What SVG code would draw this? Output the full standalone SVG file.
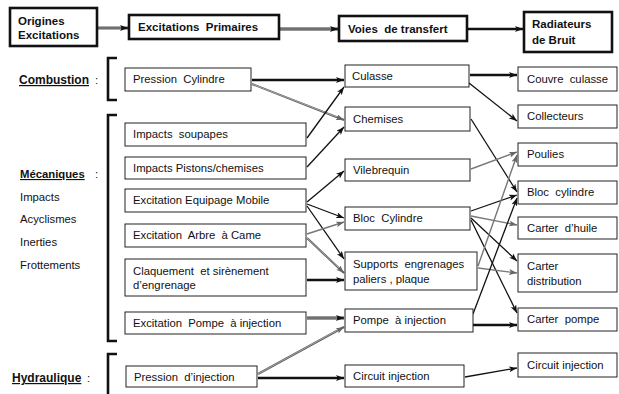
<svg xmlns="http://www.w3.org/2000/svg" width="619" height="394" viewBox="0 0 619 394" xml:space="preserve">
<defs>
<marker id="ab" markerWidth="9" markerHeight="7" refX="8" refY="3" orient="auto" markerUnits="userSpaceOnUse"><path d="M0,0 L8,3 L0,6 L2,3 z" fill="#111"/></marker>
<marker id="ag" markerWidth="9" markerHeight="7" refX="8" refY="3" orient="auto" markerUnits="userSpaceOnUse"><path d="M0,0 L8,3 L0,6 L2,3 z" fill="#666"/></marker>
</defs>
<style>
text{font-family:"Liberation Sans",Arial,sans-serif;font-size:11.3px;fill:#111;white-space:pre}
.hd{font-weight:bold;font-size:11.5px}
.lb{font-weight:bold;text-decoration:underline;font-size:12px}
.lm{font-weight:bold;text-decoration:underline;font-size:11.3px}
.hbox{fill:#fff;stroke:#111;stroke-width:2.6}
.box{fill:#fff;stroke:#222;stroke-width:1}
.br{fill:none;stroke:#111;stroke-width:2.6}
.k{stroke:#111;stroke-width:1.3;fill:none;marker-end:url(#ab)}
.kt{stroke:#111;stroke-width:2.4;fill:none;marker-end:url(#ab)}
.g{stroke:#777;stroke-width:1.4;fill:none;marker-end:url(#ag)}
.dO{stroke:#333;stroke-width:2.8;fill:none;marker-end:url(#ab)}
.dI{stroke:#bbb;stroke-width:0.9;fill:none}
.gO{stroke:#555;stroke-width:2;fill:none;marker-end:url(#ag)}
.gI{stroke:#ccc;stroke-width:0.7;fill:none}
</style>
<rect width="619" height="394" fill="#fff"/>

<g id="connectors">
<line class="dO" x1="98" y1="28" x2="128" y2="28"/><line class="dI" x1="98" y1="28" x2="121" y2="28"/>
<line class="dO" x1="280" y1="29" x2="338" y2="29"/><line class="dI" x1="280" y1="29" x2="331" y2="29"/>
<line class="kt" x1="468" y1="29" x2="523" y2="29"/>

<line class="kt" x1="252" y1="80" x2="344" y2="80"/>
<line class="gO" x1="252" y1="84" x2="344" y2="120"/><line class="gI" x1="252" y1="84" x2="337" y2="117"/>
<line class="k" x1="307" y1="138" x2="344" y2="87"/>
<line class="k" x1="307" y1="167" x2="344" y2="127"/>
<line class="k" x1="307" y1="202" x2="344" y2="171"/>
<line class="k" x1="307" y1="204" x2="344" y2="218"/>
<line class="k" x1="307" y1="206" x2="344" y2="259"/>
<line class="g" x1="307" y1="234" x2="344" y2="222"/>
<line class="gO" x1="307" y1="238" x2="344" y2="273"/><line class="gI" x1="307" y1="238" x2="339" y2="268"/>
<line class="kt" x1="307" y1="280" x2="344" y2="280"/>
<line class="dO" x1="307" y1="318" x2="344" y2="318"/><line class="dI" x1="307" y1="318" x2="337" y2="318"/>
<line class="gO" x1="258" y1="374" x2="344" y2="327"/><line class="gI" x1="258" y1="374" x2="338" y2="330"/>
<line class="kt" x1="258" y1="378" x2="344" y2="378"/>

<line class="kt" x1="470" y1="75" x2="517" y2="75"/>
<line class="k" x1="469" y1="83" x2="517" y2="121"/>
<line class="k" x1="471" y1="119" x2="517" y2="192"/>
<line class="g" x1="471" y1="169" x2="517" y2="152"/>
<line class="k" x1="471" y1="211" x2="517" y2="195"/>
<line class="g" x1="471" y1="216" x2="517" y2="225"/>
<line class="k" x1="471" y1="218" x2="517" y2="261"/>
<line class="k" x1="471" y1="220" x2="517" y2="313"/>
<line class="g" x1="478" y1="266" x2="517" y2="155"/>
<line class="g" x1="478" y1="268" x2="517" y2="273"/>
<line class="k" x1="473" y1="314" x2="517" y2="198"/>
<line class="kt" x1="473" y1="325" x2="517" y2="325"/>
<line class="k" x1="465" y1="377" x2="517" y2="368"/>
</g>

<g id="h-origines"><rect class="hbox" x="10" y="8" width="87" height="38"/><text class="hd" x="18" y="25">Origines</text><text class="hd" x="18" y="39">Excitations</text></g>
<g id="h-primaires"><rect class="hbox" x="129" y="15" width="150" height="24"/><text class="hd" x="138" y="31">Excitations  Primaires</text></g>
<g id="h-voies"><rect class="hbox" x="339" y="16" width="128" height="25"/><text class="hd" x="348" y="33">Voies  de transfert</text></g>
<g id="h-radiateurs"><rect class="hbox" x="524" y="12" width="88" height="40"/><text class="hd" x="532" y="28">Radiateurs</text><text class="hd" x="532" y="44">de Bruit</text></g>

<g id="l-combustion"><text class="lb" x="19" y="84">Combustion</text><text x="95" y="84">:</text><path class="br" d="M117,58 H108 V100 H117"/></g>
<g id="l-mecaniques"><text class="lm" x="20" y="178">Mécaniques</text><text x="95" y="178">:</text>
<text x="20" y="201">Impacts</text><text x="20" y="223">Acyclismes</text><text x="20" y="246">Inerties</text><text x="20" y="269">Frottements</text>
<path class="br" d="M117,115 H108 V341 H117"/></g>
<g id="l-hydraulique"><text class="lb" x="12" y="382">Hydraulique</text><text x="87" y="382">:</text><path class="br" d="M117,354 H108 V394"/></g>

<g id="e-pression-cyl"><rect class="box" x="125" y="68" width="126" height="23"/><text x="133" y="83">Pression  Cylindre</text></g>
<g id="e-impacts-soupapes"><rect class="box" x="125" y="123" width="181" height="23"/><text x="133" y="138">Impacts  soupapes</text></g>
<g id="e-impacts-pistons"><rect class="box" x="125" y="157" width="181" height="22"/><text x="133" y="172">Impacts Pistons/chemises</text></g>
<g id="e-equipage"><rect class="box" x="125" y="189" width="181" height="23"/><text x="133" y="204">Excitation Equipage Mobile</text></g>
<g id="e-arbre"><rect class="box" x="125" y="224" width="181" height="23"/><text x="133" y="239">Excitation  Arbre  à Came</text></g>
<g id="e-claquement"><rect class="box" x="125" y="259" width="181" height="37"/><text x="133" y="275">Claquement  et sirènement</text><text x="133" y="289">d’engrenage</text></g>
<g id="e-pompe"><rect class="box" x="125" y="312" width="181" height="22"/><text x="133" y="327">Excitation  Pompe  à injection</text></g>
<g id="e-pression-inj"><rect class="box" x="126" y="366" width="131" height="21"/><text x="134" y="381">Pression  d’injection</text></g>

<g id="v-culasse"><rect class="box" x="345" y="65" width="124" height="22"/><text x="352" y="80">Culasse</text></g>
<g id="v-chemises"><rect class="box" x="345" y="107" width="125" height="24"/><text x="353" y="123">Chemises</text></g>
<g id="v-vilebrequin"><rect class="box" x="345" y="159" width="125" height="22"/><text x="353" y="174">Vilebrequin</text></g>
<g id="v-bloc"><rect class="box" x="345" y="207" width="125" height="23"/><text x="353" y="222">Bloc  Cylindre</text></g>
<g id="v-supports"><rect class="box" x="345" y="252" width="132" height="38"/><text x="353" y="268">Supports  engrenages</text><text x="353" y="283">paliers , plaque</text></g>
<g id="v-pompe"><rect class="box" x="345" y="309" width="128" height="23"/><text x="353" y="324">Pompe  à injection</text></g>
<g id="v-circuit"><rect class="box" x="345" y="365" width="119" height="22"/><text x="353" y="380">Circuit injection</text></g>

<g id="r-couvre"><rect class="box" x="518" y="67" width="99" height="24"/><text x="527" y="83">Couvre  culasse</text></g>
<g id="r-collecteurs"><rect class="box" x="518" y="105" width="99" height="23"/><text x="527" y="120">Collecteurs</text></g>
<g id="r-poulies"><rect class="box" x="518" y="143" width="99" height="23"/><text x="527" y="158">Poulies</text></g>
<g id="r-bloc"><rect class="box" x="518" y="181" width="99" height="23"/><text x="527" y="196">Bloc  cylindre</text></g>
<g id="r-huile"><rect class="box" x="518" y="217" width="99" height="22"/><text x="527" y="232">Carter  d’huile</text></g>
<g id="r-distribution"><rect class="box" x="518" y="254" width="99" height="38"/><text x="527" y="270">Carter</text><text x="527" y="285">distribution</text></g>
<g id="r-pompe"><rect class="box" x="518" y="308" width="99" height="23"/><text x="527" y="323">Carter  pompe</text></g>
<g id="r-circuit"><rect class="box" x="518" y="353" width="99" height="24"/><text x="527" y="369">Circuit injection</text></g>
</svg>
